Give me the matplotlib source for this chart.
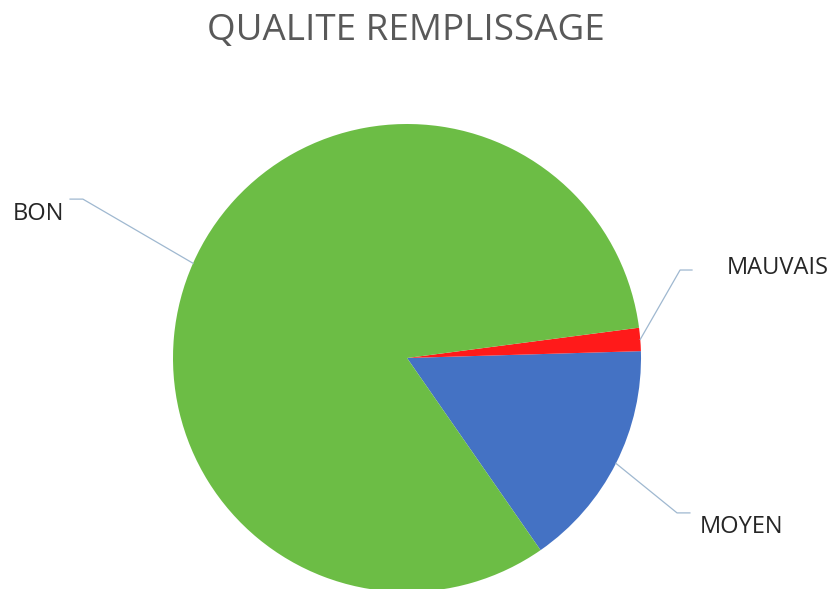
import matplotlib.pyplot as plt
import numpy as np

labels = ['MOYEN', 'MAUVAIS', 'BON']
values = [15.8, 1.6, 82.6]
colors = ['#4472C4', '#FF1A1A', '#6CBD45']

plt.rcParams['font.family'] = ['Open Sans', 'DejaVu Sans']

fig = plt.figure(figsize=(8.34, 5.89), dpi=100)
ax = fig.add_axes([0, 0, 1, 1])

wedges, _ = ax.pie(values, colors=colors, startangle=-55.2, counterclock=True,
                   wedgeprops=dict(linewidth=0))

# pie centre sits at pixel (407, 358), radius 234 px
ax.set_xlim(-407 / 234, (834 - 407) / 234)
ax.set_ylim(-(589 - 358) / 234, 358 / 234)
ax.set_aspect('equal')
ax.axis('off')

# label layout: elbow point, end of the short horizontal, text position
layout = {
    'BON': dict(elbow=(-1.385, 0.679), end=(-1.44, 0.679), text=(-1.684, 0.615)),
    'MAUVAIS': dict(elbow=(1.167, 0.376), end=(1.218, 0.376), text=(1.368, 0.385)),
    'MOYEN': dict(elbow=(1.154, -0.662), end=(1.209, -0.662), text=(1.252, -0.722)),
}

for w, lab in zip(wedges, labels):
    mid = np.deg2rad((w.theta1 + w.theta2) / 2)
    edge = (np.cos(mid), np.sin(mid))
    lo = layout[lab]
    ax.plot([edge[0], lo['elbow'][0], lo['end'][0]],
            [edge[1], lo['elbow'][1], lo['end'][1]],
            color='#9fb8d0', lw=0.9, clip_on=False)
    ax.text(lo['text'][0], lo['text'][1], lab, fontsize=17, color='#262626',
            ha='left', va='center')

fig.text(0.487, 0.948, 'QUALITE REMPLISSAGE', fontsize=26.5, color='#595959',
         ha='center', va='center')

fig.savefig('out.png', dpi=100)
